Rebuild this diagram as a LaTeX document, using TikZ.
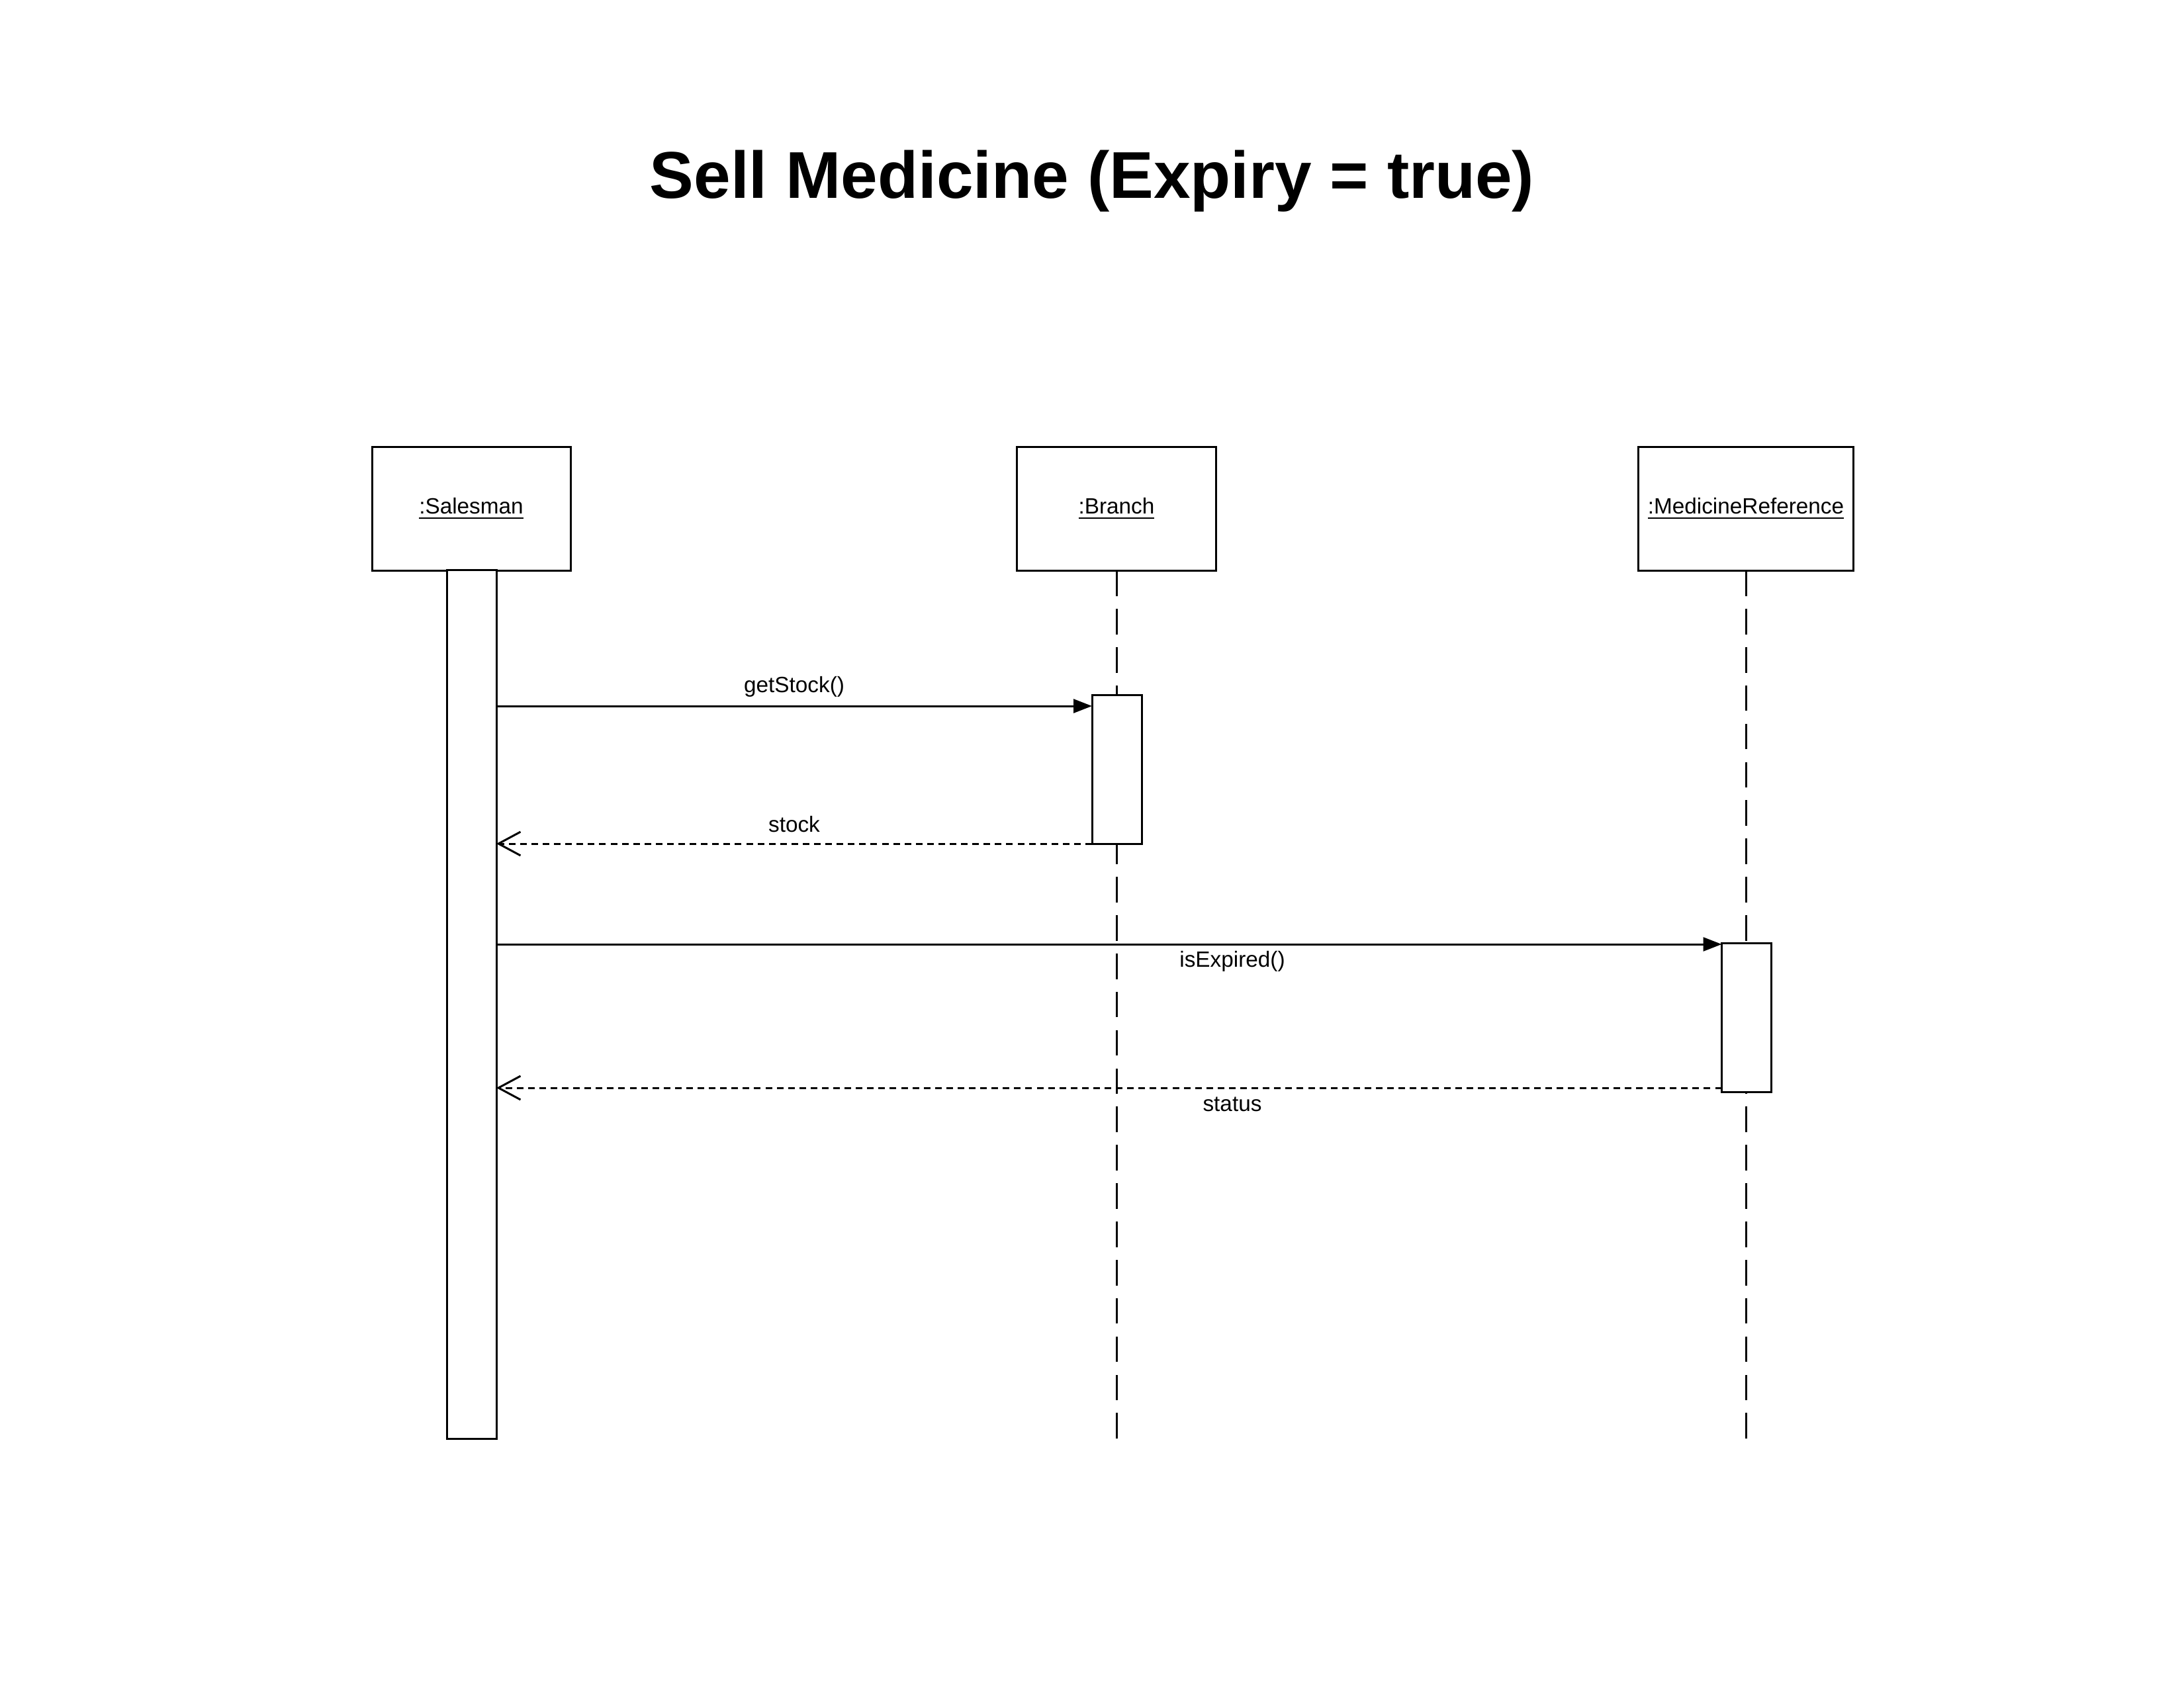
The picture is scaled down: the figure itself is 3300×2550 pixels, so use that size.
\documentclass[tikz,border=0pt]{standalone}
\usepackage{fontspec}
\setmainfont{Liberation Sans}
\usetikzlibrary{arrows.meta}
\begin{document}
\begin{tikzpicture}[x=0.24pt,y=-0.24pt,
  lw/.style={line width=0.72pt},
  objbox/.style={draw,lw,fill=white,inner sep=0pt,outer sep=0pt,minimum height=44.9pt,font=\fontsize{8pt}{9.6pt}\selectfont},
  actbox/.style={draw,lw,fill=white,inner sep=0pt,outer sep=0pt,minimum width=18pt},
  lifeline/.style={lw,dash pattern=on 9.26pt off 4.63pt},
  call/.style={lw,-{Triangle[length=6.7pt,width=5pt]}},
  reply/.style={lw,dash pattern=on 2.4pt off 1.7pt,-{Straight Barb[length=8pt,width=8.6pt,line width=0.72pt]}},
  msg/.style={font=\fontsize{8pt}{9.6pt}\selectfont,inner sep=0pt}]
\useasboundingbox (0,0) rectangle (3300,2550);
% title
\node[font=\fontsize{24pt}{28pt}\selectfont\bfseries] (title) at (1650,274) {Sell Medicine (Expiry = true)};
% object boxes
\node[objbox,minimum width=72pt] (sal) at (712,769) {\underline{:Salesman}};
\node[objbox,minimum width=72.2pt] (br) at (1687,769) {\underline{:Branch}};
\node[objbox,minimum width=78.2pt] (mr) at (2638,769) {\underline{:MedicineReference}};
% lifeline ends
\coordinate (brend) at (1687,2174);
\coordinate (mrend) at (2638,2174);
\draw[lifeline] (brend) -- (br.south);
\draw[lifeline] (mrend) -- (mr.south);
% activations
\node[actbox,minimum height=314.9pt] (sact) at (712.5,1518) {};
\node[actbox,minimum height=54pt] (bact) at (1687.5,1162.5) {};
\node[actbox,minimum height=54pt] (mact) at (2639,1537.5) {};
% message anchor points
\coordinate (m1s) at (sact.east |- 0,1067);
\coordinate (m1e) at (bact.west |- 0,1067);
\coordinate (m2s) at (bact.west |- 0,1275);
\coordinate (m2e) at (sact.east |- 0,1275);
\coordinate (m3s) at (sact.east |- 0,1427);
\coordinate (m3e) at (mact.west |- 0,1427);
\coordinate (m4s) at (mact.west |- 0,1644);
\coordinate (m4e) at (sact.east |- 0,1644);
\draw[call] (m1s) -- (m1e);
\draw[reply] (m2s) -- (m2e);
\draw[call] (m3s) -- (m3e);
\draw[reply] (m4s) -- (m4e);
% labels
\node[msg] (l1) at (1200,1038) {getStock()};
\node[msg] (l2) at (1200,1246) {stock};
\node[msg] (l3) at (1862,1453) {isExpired()};
\node[msg] (l4) at (1862,1669) {status};
\end{tikzpicture}
\end{document}
